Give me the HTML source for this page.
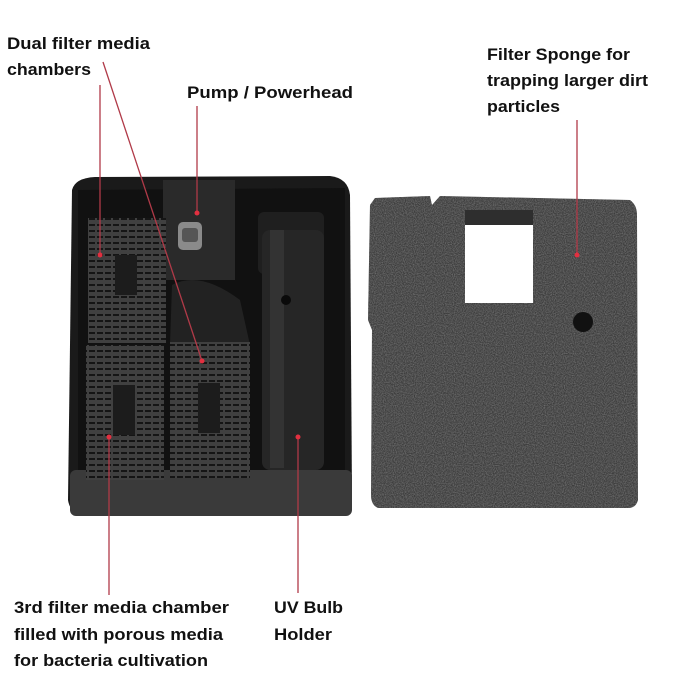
<!DOCTYPE html>
<html><head><style>html,body{margin:0;padding:0;background:#fff}svg{display:block}text{font-family:"Liberation Sans",sans-serif;font-weight:bold;font-size:17px;fill:#111}</style></head>
<body>
<svg width="682" height="686" viewBox="0 0 682 686">
<defs>
<filter id="foam" x="0" y="0" width="100%" height="100%"><feTurbulence type="fractalNoise" baseFrequency="0.9" numOctaves="2" seed="3"/><feColorMatrix values="0 0 0 0 0.25  0 0 0 0 0.25  0 0 0 0 0.25  0 0 0 1.2 -0.35"/><feComposite in2="SourceGraphic" operator="in"/></filter>
<pattern id="slots" width="8" height="6" patternUnits="userSpaceOnUse"><rect width="8" height="6" fill="#404040"/><rect x="1" y="2" width="6" height="2" fill="#151515"/></pattern>
</defs>
<path d="M72 190 Q75 178 95 177 L330 176 Q348 178 350 195 L352 500 Q350 515 335 516 L85 516 Q70 514 68 500 Z" fill="#1a1a1a"/>
<rect x="70" y="470" width="282" height="46" rx="6" fill="#3a3a3a"/>
<path d="M78 190 L345 188 L345 470 L78 470 Z" fill="#111"/>
<rect x="163" y="180" width="72" height="100" fill="#2a2a2a"/>
<rect x="178" y="222" width="24" height="28" rx="5" fill="#8a8a8a"/>
<rect x="182" y="228" width="16" height="14" rx="3" fill="#555"/>
<path d="M172 285 Q200 270 240 300 L250 345 L170 345 Z" fill="#222"/>
<rect x="88" y="218" width="78" height="125" fill="url(#slots)"/>
<rect x="86" y="345" width="78" height="135" fill="url(#slots)"/>
<rect x="170" y="342" width="80" height="136" fill="url(#slots)"/>
<rect x="115" y="255" width="22" height="40" fill="#1c1c1c"/>
<rect x="113" y="385" width="22" height="50" fill="#1c1c1c"/>
<rect x="198" y="383" width="22" height="50" fill="#1c1c1c"/>
<rect x="258" y="212" width="66" height="62" rx="6" fill="#1f1f1f"/>
<rect x="262" y="230" width="62" height="240" rx="8" fill="#262626"/>
<rect x="270" y="230" width="14" height="238" fill="#333"/>
<circle cx="286" cy="300" r="5" fill="#0a0a0a"/>
<path d="M375 198 L430 196 L432 205 L440 196 L630 200 Q637 205 637 215 L638 500 Q636 508 628 508 L378 508 Q371 505 371 495 L372 330 L368 320 L370 205 Z" fill="#3c3c3c"/>
<path d="M375 198 L430 196 L432 205 L440 196 L630 200 Q637 205 637 215 L638 500 Q636 508 628 508 L378 508 Q371 505 371 495 L372 330 L368 320 L370 205 Z" fill="#fff" filter="url(#foam)"/>
<rect x="465" y="210" width="68" height="15" fill="#2e2e2e"/>
<rect x="465" y="225" width="68" height="78" fill="#fff"/>
<circle cx="583" cy="322" r="10" fill="#111"/>
<g stroke="#b03a48" stroke-width="1.3" fill="none">
<line x1="100" y1="85" x2="100" y2="255"/>
<line x1="103" y1="62" x2="202" y2="361"/>
<line x1="197" y1="106" x2="197" y2="213"/>
<line x1="577" y1="120" x2="577" y2="255"/>
<line x1="109" y1="437" x2="109" y2="595"/>
<line x1="298" y1="437" x2="298" y2="593"/>
</g>
<g fill="#e23040">
<circle cx="100" cy="255" r="2.5"/><circle cx="202" cy="361" r="2.5"/><circle cx="197" cy="213" r="2.5"/><circle cx="577" cy="255" r="2.5"/><circle cx="109" cy="437" r="2.5"/><circle cx="298" cy="437" r="2.5"/>
</g>
<text x="7" y="49" textLength="143" lengthAdjust="spacingAndGlyphs">Dual filter media</text>
<text x="7" y="75" textLength="84" lengthAdjust="spacingAndGlyphs">chambers</text>
<text x="187" y="98" textLength="166" lengthAdjust="spacingAndGlyphs">Pump / Powerhead</text>
<text x="487" y="60" textLength="143" lengthAdjust="spacingAndGlyphs">Filter Sponge for</text>
<text x="487" y="86" textLength="161" lengthAdjust="spacingAndGlyphs">trapping larger dirt</text>
<text x="487" y="112" textLength="73" lengthAdjust="spacingAndGlyphs">particles</text>
<text x="14" y="613" textLength="215" lengthAdjust="spacingAndGlyphs">3rd filter media chamber</text>
<text x="14" y="640" textLength="209" lengthAdjust="spacingAndGlyphs">filled with porous media</text>
<text x="14" y="666" textLength="194" lengthAdjust="spacingAndGlyphs">for bacteria cultivation</text>
<text x="274" y="613" textLength="69" lengthAdjust="spacingAndGlyphs">UV Bulb</text>
<text x="274" y="640" textLength="58" lengthAdjust="spacingAndGlyphs">Holder</text>
</svg>
</body></html>
